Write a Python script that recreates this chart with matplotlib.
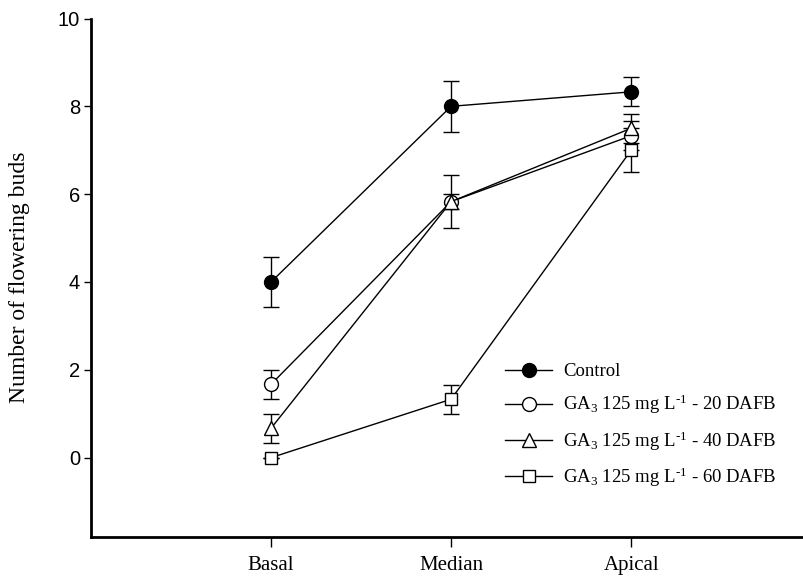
import matplotlib
matplotlib.use("Agg")
import matplotlib.pyplot as plt
from matplotlib.lines import Line2D
import numpy as np

positions = ["Basal", "Median", "Apical"]
x_vals = [1, 2, 3]

control = [4.0, 8.0, 8.33]
control_err = [0.58, 0.58, 0.33]
ga20 = [1.67, 5.83, 7.33]
ga20_err = [0.33, 0.60, 0.33]
ga40 = [0.67, 5.83, 7.5]
ga40_err = [0.33, 0.17, 0.33]
ga60 = [0.0, 1.33, 7.0]
ga60_err = [0.0, 0.33, 0.5]

labels = [
    "Control",
    "GA$\\mathregular{_3}$ 125 mg L$\\mathregular{^{\u20101}}$ - 20 DAFB",
    "GA$\\mathregular{_3}$ 125 mg L$\\mathregular{^{\u20101}}$ - 40 DAFB",
    "GA$\\mathregular{_3}$ 125 mg L$\\mathregular{^{\u20101}}$ - 60 DAFB",
]
yticks = [0, 2, 4, 6, 8, 10]

serif = "Liberation Serif"
sans = "Liberation Sans"
plt.rcParams["mathtext.fontset"] = "custom"
plt.rcParams["mathtext.rm"] = serif

fig = plt.figure(figsize=(8.04, 5.78), dpi=100)
ax = fig.add_axes([91 / 804, 1 - 536.7 / 578, 1 - 91 / 804, (536.7 - 18.5) / 578])

series = [
    (control, control_err, "o", "black"),
    (ga20, ga20_err, "o", "white"),
    (ga40, ga40_err, "^", "white"),
    (ga60, ga60_err, "s", "white"),
]
handles = []
for (vals, errs, mk, fc), lab in zip(series, labels):
    ms = 10 if mk == "o" else (9.5 if mk == "^" else 8.5)
    ax.errorbar(x_vals, vals, yerr=errs, fmt="-", marker=mk, color="black",
                mfc=fc, mec="black", mew=1.0, ms=ms, lw=1.0,
                elinewidth=1.0, capsize=6, capthick=1.0, zorder=3)
    handles.append(Line2D([], [], color="black", lw=1.0, marker=mk, mfc=fc,
                          mec="black", mew=1.0, ms=ms))

ax.set_xlim(0, 3.96)
ax.set_ylim(-1.8, 10)
ax.set_xticks(x_vals)
ax.set_xticklabels(positions, fontfamily=serif, fontsize=15)
ax.set_yticks(yticks)
ax.set_yticklabels([str(t) for t in yticks], fontfamily=sans, fontsize=14.5)
ax.set_ylabel("Number of flowering buds", fontfamily=serif, fontsize=17, labelpad=20)

for s in ["top", "right"]:
    ax.spines[s].set_visible(False)
for s in ["left", "bottom"]:
    ax.spines[s].set_linewidth(2.0)
ax.tick_params(axis="y", direction="out", length=5, width=1.0, pad=3)
ax.tick_params(axis="x", direction="out", length=7, width=1.0, pad=7)

leg = ax.legend(handles=handles, labels=labels, loc="upper left",
                bbox_to_anchor=(492 / 804, 1 - 350 / 578),
                bbox_transform=fig.transFigure, frameon=False,
                prop={"family": serif, "size": 13.5}, handlelength=2.5,
                handletextpad=0.6, labelspacing=0.68, borderpad=0.2)

fig.savefig("out.png", dpi=100)
